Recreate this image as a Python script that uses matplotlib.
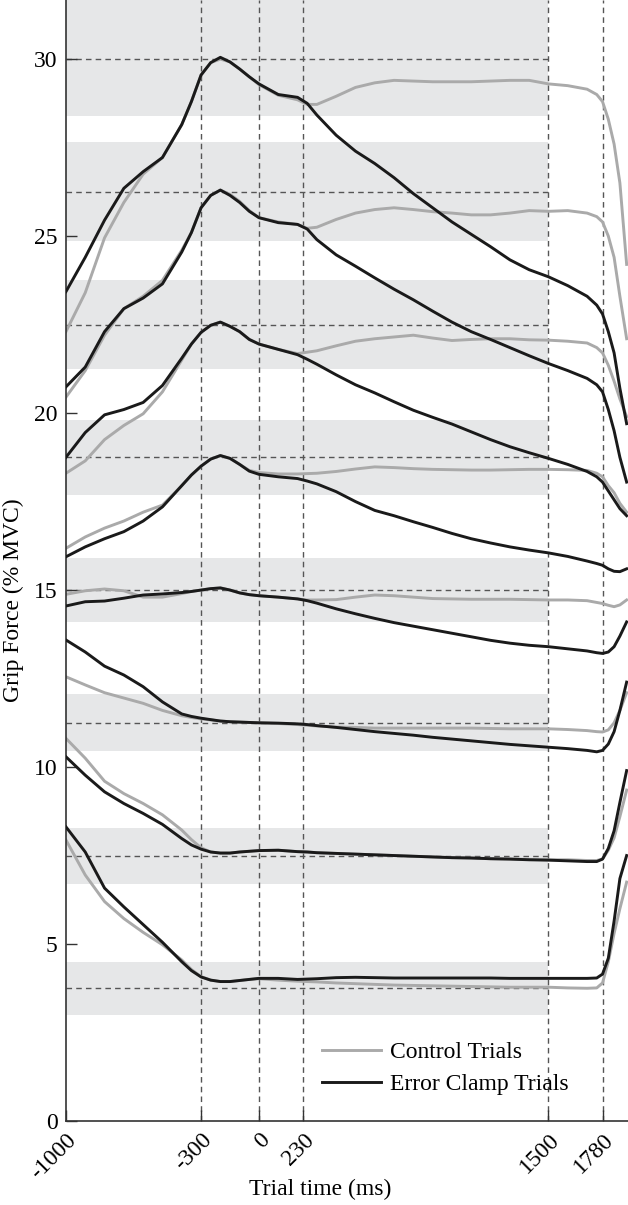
import matplotlib
matplotlib.use("Agg")
import matplotlib.pyplot as plt

plt.rcParams['font.family'] = ['Liberation Serif', 'DejaVu Serif']
plt.rcParams['font.size'] = 17

#time grid (ms)
time_ms = [-1000, -900, -800, -700, -600, -500, -400, -350, -300, -250, -200, -150, -100, -50, 0,
           100, 200, 250, 300, 400, 500, 600, 700, 800, 900, 1000, 1100, 1200, 1300, 1400, 1500,
           1600, 1700, 1750, 1780, 1810, 1840, 1870, 1905]

#target levels (% MVC) and tolerance bands
targets = [3.75, 7.5, 11.25, 15, 18.75, 22.5, 26.25, 30]
band_lo = [3.0, 6.7, 10.45, 14.1, 17.69, 21.24, 24.85, 28.4]
band_hi = [4.5, 8.28, 12.05, 15.9, 19.8, 23.75, 27.66, 31.7]

#event markers
events = [-300, 0, 230, 1500, 1780]
xticks = [-1000, -300, 0, 230, 1500, 1780]

#control trials (gray)
ctrl_30 = [22.3, 23.4, 24.95, 25.95, 26.75, 27.22, 28.15, 28.8, 29.55, 29.9, 30.0, 29.92, 29.72, 29.5, 29.28,
           28.98, 28.85, 28.72, 28.72, 28.95, 29.2, 29.33, 29.4, 29.38, 29.36, 29.36, 29.36, 29.38, 29.4, 29.4, 29.3,
           29.25, 29.15, 29.0, 28.8, 28.3, 27.6, 26.5, 24.2]
ctrl_26 = [20.45, 21.2, 22.2, 22.95, 23.3, 23.75, 24.6, 25.1, 25.8, 26.15, 26.3, 26.18, 25.98, 25.72, 25.52,
           25.4, 25.33, 25.22, 25.25, 25.47, 25.65, 25.75, 25.8, 25.75, 25.69, 25.65, 25.6, 25.6, 25.65, 25.72, 25.7,
           25.72, 25.65, 25.55, 25.4, 25.0, 24.4, 23.3, 22.1]
ctrl_22 = [18.3, 18.65, 19.25, 19.65, 19.98, 20.6, 21.5, 21.95, 22.28, 22.48, 22.57, 22.45, 22.3, 22.08, 21.95,
           21.8, 21.68, 21.72, 21.76, 21.9, 22.03, 22.1, 22.15, 22.2, 22.12, 22.05, 22.08, 22.1, 22.1, 22.07, 22.06,
           22.03, 21.98, 21.85, 21.7, 21.35, 20.9, 20.4, 19.9]
ctrl_19 = [16.18, 16.5, 16.75, 16.95, 17.2, 17.4, 17.95, 18.25, 18.5, 18.7, 18.8, 18.72, 18.55, 18.38, 18.32,
           18.28, 18.28, 18.29, 18.3, 18.35, 18.42, 18.48, 18.46, 18.43, 18.41, 18.4, 18.39, 18.39, 18.4, 18.41, 18.41,
           18.4, 18.38, 18.3, 18.2, 17.95, 17.75, 17.45, 17.2]
ctrl_15 = [14.88, 14.98, 15.03, 14.98, 14.8, 14.8, 14.9, 14.96, 15.0, 15.04, 15.06, 15.0, 14.92, 14.87, 14.84,
           14.8, 14.75, 14.72, 14.72, 14.73, 14.8, 14.86, 14.84, 14.8, 14.76, 14.75, 14.74, 14.74, 14.74, 14.73, 14.72,
           14.72, 14.7, 14.65, 14.62, 14.57, 14.53, 14.58, 14.72]
ctrl_11 = [12.55, 12.32, 12.1, 11.95, 11.8, 11.6, 11.45, 11.4, 11.36, 11.33, 11.3, 11.28, 11.27, 11.26, 11.25,
           11.23, 11.2, 11.18, 11.16, 11.13, 11.12, 11.1, 11.1, 11.1, 11.1, 11.1, 11.1, 11.09, 11.08, 11.08, 11.08,
           11.06, 11.03, 11.0, 10.99, 11.05, 11.25, 11.6, 12.1]
ctrl_8 = [10.81, 10.25, 9.6, 9.25, 8.97, 8.65, 8.22, 7.95, 7.72, 7.6, 7.57, 7.57, 7.6, 7.62, 7.64,
          7.65, 7.61, 7.6, 7.58, 7.56, 7.54, 7.52, 7.5, 7.48, 7.46, 7.44, 7.43, 7.41, 7.4, 7.39, 7.38,
          7.38, 7.36, 7.36, 7.4, 7.65, 8.0, 8.6, 9.35]
ctrl_4 = [7.94, 6.95, 6.2, 5.72, 5.33, 4.98, 4.55, 4.28, 4.08, 3.98, 3.94, 3.94, 3.97, 4.0, 4.02,
          3.98, 3.95, 3.94, 3.93, 3.9, 3.88, 3.86, 3.84, 3.83, 3.82, 3.81, 3.8, 3.79, 3.78, 3.78, 3.78,
          3.76, 3.75, 3.76, 3.9, 4.5, 5.3, 6.0, 6.75]

#error clamp trials (black)
ec_30 = [23.43, 24.4, 25.45, 26.35, 26.82, 27.22, 28.15, 28.8, 29.55, 29.9, 30.05, 29.92, 29.72, 29.5, 29.3,
         29.0, 28.92, 28.75, 28.42, 27.85, 27.4, 27.05, 26.65, 26.2, 25.8, 25.4, 25.05, 24.7, 24.33, 24.05, 23.85,
         23.6, 23.3, 23.05, 22.8, 22.3, 21.7, 20.7, 19.7]
ec_26 = [20.74, 21.3, 22.3, 22.95, 23.25, 23.65, 24.55, 25.1, 25.8, 26.15, 26.3, 26.15, 25.95, 25.7, 25.52,
         25.38, 25.33, 25.2, 24.9, 24.47, 24.15, 23.82, 23.5, 23.2, 22.88, 22.57, 22.3, 22.08, 21.85, 21.62, 21.4,
         21.2, 20.98, 20.8, 20.6, 20.1, 19.5, 18.75, 18.05]
ec_22 = [18.75, 19.45, 19.95, 20.1, 20.3, 20.78, 21.55, 21.95, 22.28, 22.48, 22.57, 22.45, 22.3, 22.08, 21.95,
         21.8, 21.65, 21.52, 21.38, 21.08, 20.8, 20.57, 20.32, 20.08, 19.88, 19.69, 19.47, 19.25, 19.05, 18.88, 18.72,
         18.55, 18.35, 18.2, 18.05, 17.8, 17.55, 17.3, 17.1]
ec_19 = [15.94, 16.22, 16.45, 16.65, 16.95, 17.35, 17.95, 18.25, 18.5, 18.7, 18.8, 18.72, 18.55, 18.36, 18.27,
         18.2, 18.15, 18.08, 18.0, 17.78, 17.5, 17.25, 17.1, 16.93, 16.77, 16.6, 16.45, 16.33, 16.22, 16.13, 16.05,
         15.95, 15.82, 15.75, 15.7, 15.6, 15.53, 15.52, 15.6]
ec_15 = [14.55, 14.67, 14.69, 14.77, 14.86, 14.89, 14.93, 14.96, 15.0, 15.04, 15.06, 15.0, 14.92, 14.87, 14.84,
         14.8, 14.75, 14.7, 14.63, 14.47, 14.33, 14.2, 14.08, 13.98, 13.88, 13.78, 13.68, 13.58, 13.5, 13.44, 13.4,
         13.34, 13.28, 13.23, 13.21, 13.25, 13.4, 13.7, 14.1]
ec_11 = [13.59, 13.25, 12.85, 12.6, 12.27, 11.84, 11.5, 11.43, 11.38, 11.34, 11.3, 11.28, 11.27, 11.26, 11.25,
         11.24, 11.22, 11.2, 11.17, 11.12, 11.06, 11.0, 10.95, 10.9, 10.84, 10.79, 10.74, 10.69, 10.64, 10.6, 10.56,
         10.52, 10.47, 10.43, 10.47, 10.65, 11.0, 11.6, 12.4]
ec_8 = [10.29, 9.77, 9.3, 8.97, 8.69, 8.38, 7.98, 7.8, 7.68, 7.6, 7.57, 7.57, 7.6, 7.62, 7.64,
        7.65, 7.61, 7.6, 7.58, 7.56, 7.54, 7.52, 7.5, 7.48, 7.46, 7.44, 7.43, 7.41, 7.4, 7.38, 7.37,
        7.35, 7.33, 7.33, 7.4, 7.7, 8.2, 9.0, 9.9]
ec_4 = [8.31, 7.6, 6.58, 6.05, 5.55, 5.05, 4.5, 4.25, 4.07, 3.98, 3.94, 3.94, 3.97, 4.0, 4.03,
        4.03, 4.0, 4.01, 4.02, 4.05, 4.06, 4.05, 4.04, 4.04, 4.04, 4.04, 4.04, 4.04, 4.03, 4.03, 4.03,
        4.03, 4.03, 4.04, 4.15, 4.6, 5.65, 6.85, 7.5]

ctrl_all = [ctrl_4, ctrl_8, ctrl_11, ctrl_15, ctrl_19, ctrl_22, ctrl_26, ctrl_30]
ec_all = [ec_4, ec_8, ec_11, ec_15, ec_19, ec_22, ec_26, ec_30]

fig = plt.figure(figsize=(6.28, 12.05), dpi=100)
ax = fig.add_axes([0.105, 0.0697, 0.895, 0.9303])

dash_col = "#555555"
dash_style = (0, (4, 3))

#bands
for lo, hi in zip(band_lo, band_hi):
    ax.fill_between([-1000, 1500], lo, hi, color="#e6e7e8", lw=0, zorder=0)

#target lines + events
ax.hlines(targets, -1000, 1500, colors=dash_col, linestyles=dash_style, lw=1.0, zorder=1)
for ev in events:
    ax.axvline(ev, color=dash_col, ls=dash_style, lw=1.0, zorder=1)

for i, c in enumerate(ctrl_all):
    ax.plot(time_ms, c, color="#aaaaaa", lw=2.1, zorder=2, solid_joinstyle="round",
            label="Control Trials" if i == 0 else None)
for i, e in enumerate(ec_all):
    ax.plot(time_ms, e, color="#1a1a1a", lw=2.1, zorder=3, solid_joinstyle="round",
            label="Error Clamp Trials" if i == 0 else None)

ax.set_xlim(-1000, 1912)
ax.set_ylim(0, 31.67)

ax.set_xticks(xticks)
ax.set_xticklabels([str(x) for x in xticks], rotation=45, ha="right", rotation_mode="anchor")
ax.set_yticks([0, 5, 10, 15, 20, 25, 30])
ax.tick_params(direction="in", length=8, width=1.0, color="#333333", pad=6)

for s in ["top", "right"]:
    ax.spines[s].set_visible(False)
for s in ["left", "bottom"]:
    ax.spines[s].set_color("#333333")
    ax.spines[s].set_linewidth(1.2)

ax.set_xlabel("Trial time (ms)")
ax.set_ylabel("Grip Force (% MVC)")
ax.xaxis.set_label_coords(0.452, -0.052)
ax.yaxis.set_label_coords(-0.075, 0.465)

ax.legend(loc="lower left", bbox_to_anchor=(0.455, 0.023), frameon=False,
          handlelength=2.5, handletextpad=0.4, labelspacing=0.45, borderpad=0, borderaxespad=0)

plt.savefig("out.png", dpi=100)
